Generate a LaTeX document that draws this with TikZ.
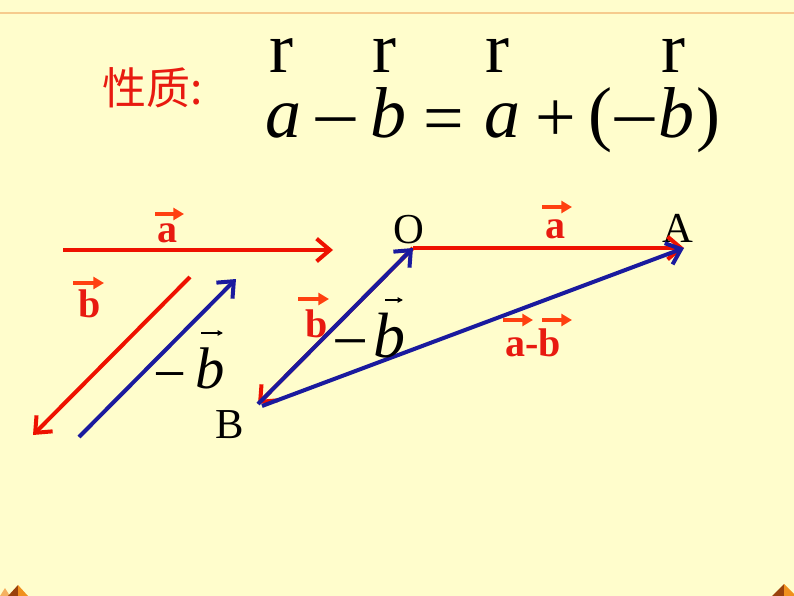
\documentclass[tikz,border=0pt]{standalone}
\usepackage{fontspec}
\setmainfont{Liberation Serif}
\newfontfamily\cjk{Noto Sans CJK SC}
\usetikzlibrary{arrows.meta}
\definecolor{bg}{HTML}{FFFDCC}
\definecolor{topline}{HTML}{F6CB8E}
\definecolor{vred}{HTML}{EE1100}
\definecolor{lred}{HTML}{E81A10}
\definecolor{ored}{HTML}{FF4010}
\definecolor{vblue}{HTML}{1A1A9E}
\definecolor{dkbrown}{HTML}{9A420C}
\definecolor{orng}{HTML}{F0901E}
\begin{document}
\begin{tikzpicture}[x=0.75pt,y=-0.75pt,
  vec/.style={line width=3pt,-{Straight Barb[length=10pt,width=17pt]}},
  redvec/.style={vec,draw=vred},
  bluevec/.style={vec,draw=vblue},
  lbl/.style={text=lred,font=\bfseries\fontsize{30}{30}\selectfont,inner sep=0pt},
  ovarr/.style={draw=ored,line width=2.4pt,-{Triangle[length=8pt,width=9pt]}},
  blkarr/.style={draw=black,line width=0.9pt,-{Triangle[length=4pt,width=4pt]}},
  pt/.style={font=\fontsize{32}{32}\selectfont,inner sep=0pt},
  fm/.style={font=\fontsize{54}{54}\selectfont,inner sep=0pt,anchor=base},
  fmi/.style={font=\fontsize{54}{54}\selectfont\itshape,inner sep=0pt,anchor=base},
  fminus/.style={fm,transform shape,xscale=1.2}]
\useasboundingbox (0,0) rectangle (794,596);
\fill[bg] (0,0) rectangle (794,596);
\draw[topline,line width=1.6pt] (0,13) -- (794,13);
% corner decorations
\fill[orng!70] (0,596) -- (5,588) -- (10,596) -- cycle;
\fill[dkbrown] (8,596) -- (18,585) -- (18,596) -- cycle;
\fill[orng] (18,585) -- (28,596) -- (18,596) -- cycle;
\fill[dkbrown] (772,596) -- (784,584) -- (784,596) -- cycle;
\fill[orng] (784,584) -- (794,594) -- (794,596) -- (784,596) -- cycle;
% title
\node[text=lred,font=\cjk\fontsize{33}{33}\selectfont,inner sep=0pt] (title) at (153,88) {性质:};
% formula
\node[fm] (r1) at (281,72) {r};
\node[fm] (r2) at (384,72) {r};
\node[fm] (r3) at (497,72) {r};
\node[fm] (r4) at (673,72) {r};
\node[fmi] (f1) at (283,137) {a};
\node[fminus,yshift=-5pt] (f2) at (336,137) {−};
\node[fmi] (f3) at (388,137) {b};
\node[fm,yshift=-4pt] (f4) at (444,137) {=};
\node[fmi] (f5) at (502,137) {a};
\node[fm,yshift=-3pt] (f6) at (556,137) {+};
\node[fm] (f7) at (600,137) {(};
\node[fminus,yshift=-5pt] (f8) at (635,137) {−};
\node[fmi] (f9) at (676,137) {b};
\node[fm] (f10) at (708,137) {)};
% left vectors
\coordinate (a1s) at (63,250);
\coordinate (a1e) at (333,250);
\coordinate (b1s) at (190,277);
\coordinate (b1e) at (33,435);
\coordinate (n1s) at (79,437);
\coordinate (n1e) at (236,279);
\draw[redvec] (a1s) -- (a1e);
\draw[redvec] (b1s) -- (b1e);
\draw[bluevec] (n1s) -- (n1e);
\node[lbl] (la1) at (167,233) {a};
\draw[ovarr] ([shift={(-12,-19)}]la1.center) -- ([shift={(17,-19)}]la1.center);
\node[lbl] (lb1) at (90,304) {b};
\draw[ovarr] ([shift={(-17,-21)}]lb1.center) -- ([shift={(14,-21)}]lb1.center);
\node[font=\fontsize{44}{44}\selectfont,inner sep=0pt,anchor=base,yshift=-4pt] (lm1) at (170,388) {−};
\node[font=\fontsize{44}{44}\selectfont\itshape,inner sep=0pt,anchor=base] (lnb1) at (210,388) {b};
\draw[blkarr] (201,333) -- (223,333);
% right triangle
\node[pt] (O) at (409,230) {O};
\node[pt] (A) at (678,228) {A};
\node[pt] (B) at (230,425) {B};
\coordinate (pO) at (413,248);
\coordinate (pA) at (684,248);
\coordinate (pB) at (258,404);
\coordinate (pB2) at (262,406);
\draw[redvec] (pO) -- (pB);
\node[lbl] (lb2) at (317,324) {b};
\draw[ovarr] ([shift={(-19,-25)}]lb2.center) -- ([shift={(12,-25)}]lb2.center);
\draw[bluevec] (pB) -- (pO);
\draw[redvec] (pO) -- (pA);
\draw[bluevec] (pB2) -- (pA);
\node[lbl] (la2) at (555,229) {a};
\draw[ovarr] ([shift={(-13,-22)}]la2.center) -- ([shift={(17,-22)}]la2.center);
\node[font=\fontsize{48}{48}\selectfont,inner sep=0pt,anchor=base,yshift=-4pt] (lm2) at (351,357) {−};
\node[font=\fontsize{48}{48}\selectfont\itshape,inner sep=0pt,anchor=base] (lnb2) at (389,357) {b};
\draw[blkarr] (385,300) -- (403,300);
\node[lbl] (lab) at (533,343) {a-b};
\draw[ovarr] ([shift={(-30,-23)}]lab.center) -- ([shift={(0,-23)}]lab.center);
\draw[ovarr] ([shift={(9,-23)}]lab.center) -- ([shift={(39,-23)}]lab.center);
\end{tikzpicture}
\end{document}
